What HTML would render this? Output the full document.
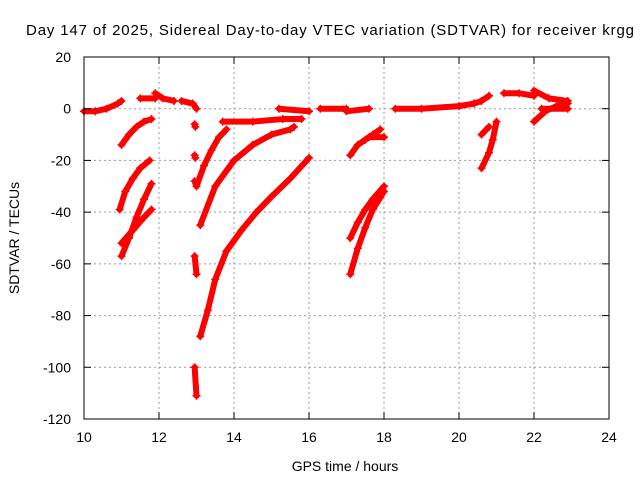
<!DOCTYPE html>
<html><head><meta charset="utf-8"><style>
body{margin:0;background:#fff;}
svg text{font-family:"Liberation Sans",sans-serif;font-size:14px;fill:#000;}
</style></head><body>
<svg id="chart" width="640" height="480">
<text x="26" y="35" textLength="608" lengthAdjust="spacing" style="font-size:15px">Day 147 of 2025, Sidereal Day-to-day VTEC variation (SDTVAR) for receiver krgg</text>
<text x="345" y="471" text-anchor="middle">GPS time / hours</text>
<text transform="translate(19,238) rotate(-90)" text-anchor="middle">SDTVAR / TECUs</text>
<g id="grid"></g><g id="marks"></g>
<rect x="84" y="57" width="525" height="362" fill="none" stroke="#000" stroke-width="1"/>
<g id="ticks"></g>
</svg>
<script>
const xTicks=[10,12,14,16,18,20,22,24];
const yTicks=[20,0,-20,-40,-60,-80,-100,-120];
const segT=[
[10.0,10.3,10.6,10.9,11.0],[11.5,11.9],[11.9,12.1,12.4],[12.6,12.9,13.0],
[11.0,11.2,11.4,11.6,11.8],[10.95,11.1,11.3,11.5,11.75],[11.0,11.2,11.4,11.6,11.8],[11.0,11.3,11.6,11.8],
[12.95,12.97],[12.95,12.97],[12.95,13.0],[12.95,13.0],[12.95,13.0],
[13.0,13.2,13.4,13.6,13.8],[13.1,13.5,14,14.5,15,15.5,15.6],[13.1,13.3,13.5,13.8,14.2,14.6,15,15.5,16],
[13.7,14.5,15.3,15.8],[15.2,16.0],[16.3,17.0],[17.0,17.6],
[17.1,17.3,17.5,17.7,17.9],[17.6,18.0],[17.1,17.3,17.5,17.7,18.0],[17.1,17.3,17.5,17.7,18.0],
[18.3,19,20,20.4],[20.4,20.6,20.8],[20.6,20.8,20.9,21.0],[20.6,20.8],
[21.2,21.6,22.0],[22.0,22.4,22.9],[22.0,22.3,22.6,22.9],[22.2,22.9]];
const segV=[
[-1,-1,0,2,3],[4,4],[6,4,3],[3,2,0],
[-14,-10,-7,-5,-4],[-39,-32,-27,-23,-20],[-57,-50,-42,-35,-29],[-52,-47,-42,-39],
[-6,-7],[-18,-19],[-28,-30],[-57,-64],[-100,-111],
[-30,-22,-16,-11,-8],[-45,-30,-20,-14,-10,-8,-7],[-88,-78,-66,-55,-47,-40,-34,-27,-19],
[-5,-5,-4,-4],[0,-1],[0,0],[-1,0],
[-18,-14,-12,-10,-8],[-11,-11],[-50,-44,-39,-35,-30],[-64,-54,-46,-39,-32],
[0,0,1,2],[2,3,5],[-23,-17,-12,-5],[-10,-7],
[6,6,5],[7,4,3],[-5,-1,1,2],[0,0]];
const X=t=>84+(t-10)*525/14, Y=v=>57+(20-v)*362/140;
const ns="http://www.w3.org/2000/svg";
const g=document.getElementById('grid'),tk=document.getElementById('ticks'),m=document.getElementById('marks');
function mk(tag,a,p){const e=document.createElementNS(ns,tag);for(const k in a)e.setAttribute(k,a[k]);p.appendChild(e);return e;}
xTicks.forEach(t=>{const x=X(t);
 if(t>10&&t<24){const l=mk('line',{x1:x,x2:x,y1:57,y2:419,stroke:'#999','stroke-dasharray':'2,3'},g);
 }
 mk('line',{x1:x,x2:x,y1:419,y2:412,stroke:'#000'},tk);mk('line',{x1:x,x2:x,y1:57,y2:64,stroke:'#000'},tk);
 const tx=mk('text',{x:x,y:442,'text-anchor':'middle'},tk);tx.textContent=t;
 });
yTicks.forEach(v=>{const y=Y(v);
 if(v<20&&v>-120){const l=mk('line',{x1:84,x2:609,y1:y,y2:y,stroke:'#999','stroke-dasharray':'2,3'},g);
 }
 mk('line',{x1:84,x2:91,y1:y,y2:y,stroke:'#000'},tk);mk('line',{x1:602,x2:609,y1:y,y2:y,stroke:'#000'},tk);
 const tx=mk('text',{x:71,y:y+5,'text-anchor':'end'},tk);tx.textContent=v;
 });
segT.forEach((ts,i)=>{const vs=segV[i];
 const pts=ts.map((t,j)=>X(t)+','+Y(vs[j])).join(' ');
 const pl=mk('polyline',{points:pts,fill:'none',stroke:'#f00','stroke-width':6,'stroke-linecap':'round','stroke-linejoin':'round'},m);
 
 ts.forEach((t,j)=>{const x=X(t),y=Y(vs[j]);
  const p=mk('path',{d:`M${x-4},${y}h8M${x},${y-4}v8`,stroke:'#f00','stroke-width':1.5},m);
  });});
</script>
</body></html>
